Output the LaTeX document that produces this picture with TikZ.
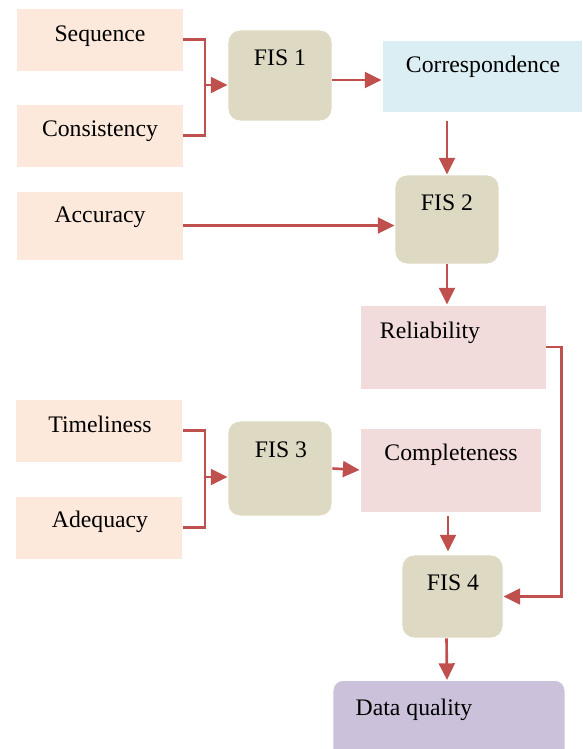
\documentclass[tikz,border=0pt]{standalone}
\usepackage{fontspec}
\setmainfont{Liberation Serif}
\usetikzlibrary{arrows.meta,calc}

\definecolor{peach}{HTML}{FCE9DB}
\definecolor{fisgray}{HTML}{DDD9C3}
\definecolor{lightblue}{HTML}{DBEEF3}
\definecolor{lightpink}{HTML}{F2DCDB}
\definecolor{lilac}{HTML}{CCC1DA}
\definecolor{arrowred}{HTML}{C0504D}

\begin{document}
\begin{tikzpicture}[x=0.02cm, y=-0.02cm,
        box/.style={draw=white, line width=0.5pt, inner sep=0pt},
        input/.style={box, fill=peach, minimum width=3.34cm, minimum height=1.26cm},
        fis/.style={box, fill=fisgray, rounded corners=0.24cm, minimum width=2.08cm},
        label/.style={anchor=base, font=\fontsize{13.5}{16}\selectfont},
        link/.style={draw=arrowred, line width=1.5pt},
        flow/.style={link, -{Triangle[length=9.5pt, width=9pt]}}]

        \useasboundingbox (0,0) rectangle (582,749);
        \clip (0,0) rectangle (582,749);

        % input boxes
        \node[input] (seq) at (99.5,39.5) {};
        \node[input] (cons) at (99.5,135.5) {};
        \node[input, minimum height=1.38cm] (acc) at (99.5,225.5) {};
        \node[input] (time) at (99,430.5) {};
        \node[input] (adeq) at (99,527.5) {};

        % fis boxes
        \node[fis, minimum height=1.82cm] (fis1) at (280,75.5) {};
        \node[fis, minimum height=1.78cm] (fis2) at (447,219.5) {};
        \node[fis, minimum height=1.90cm] (fis3) at (280,468.5) {};
        \node[fis, minimum width=2.02cm, minimum height=1.66cm] (fis4) at (452.5,596.5) {};

        % intermediate boxes
        \node[box, fill=lightblue, minimum width=4cm, minimum height=1.44cm] (corr) at (482,76) {};
        \node[box, fill=lightpink, minimum width=3.72cm, minimum height=1.68cm] (rel) at (453,347) {};
        \node[box, fill=lightpink, minimum width=3.62cm, minimum height=1.68cm] (comp) at (450.5,470) {};

        % output box
        \node[box, fill=lilac, rounded corners=0.2cm, minimum width=4.64cm, minimum height=1.8cm, anchor=north] (dq) at (449,680) {};

        % texts
        \node[label] (seqtxt) at (100,42) {Sequence};
        \node[label] (constxt) at (100,137) {Consistency};
        \node[label] (acctxt) at (100,223) {Accuracy};
        \node[label] (timetxt) at (100,432) {Timeliness};
        \node[label] (adeqtxt) at (100,527) {Adequacy};
        \node[label] (fis1txt) at (280,66) {FIS 1};
        \node[label] (fis2txt) at (447,211) {FIS 2};
        \node[label] (fis3txt) at (281,457) {FIS 3};
        \node[label] (fis4txt) at (453,590) {FIS 4};
        \node[label] (corrtxt) at (483,73) {Correspondence};
        \node[label] (reltxt) at (430,338) {Reliability};
        \node[label] (comptxt) at (451,460) {Completeness};
        \node[label] (dqtxt) at (414,715) {Data quality};

        % joins
        \coordinate (j1) at (205,85);
        \coordinate (j3) at (205,477);
        \coordinate (c1) at (332,80);
        \coordinate (c4) at (448,516);
        \draw[link] (seq.east) -| (j1) |- (cons.east);
        \draw[link] (time.east) -| (j3) |- (adeq.east);

        % flows
        \draw[flow] (j1) -- (fis1.west |- j1);
        \draw[flow] (j3) -- (fis3.west |- j3);
        \draw[flow] (c1) -- (corr.west |- c1);
        \draw[flow] ($(fis2.north |- corr.south)+(0,9)$) -- (fis2.north);
        \draw[flow] (acc.east) -- (fis2.west |- acc.east);
        \draw[flow] (fis2.south) -- (fis2.south |- rel.north);
        \draw[flow] (rel.east) -- ++(15,0) |- (fis4.east);
        \draw[flow] (fis3.east) -- (comp.west);
        \draw[flow] (c4) -- ($(c4 |- fis4.north)+(0,-3)$);
        \draw[flow] ($(fis4.south)+(-6,0)$) -- ($(dq.north)+(-2,0)$);

    \end{tikzpicture}
\end{document}
